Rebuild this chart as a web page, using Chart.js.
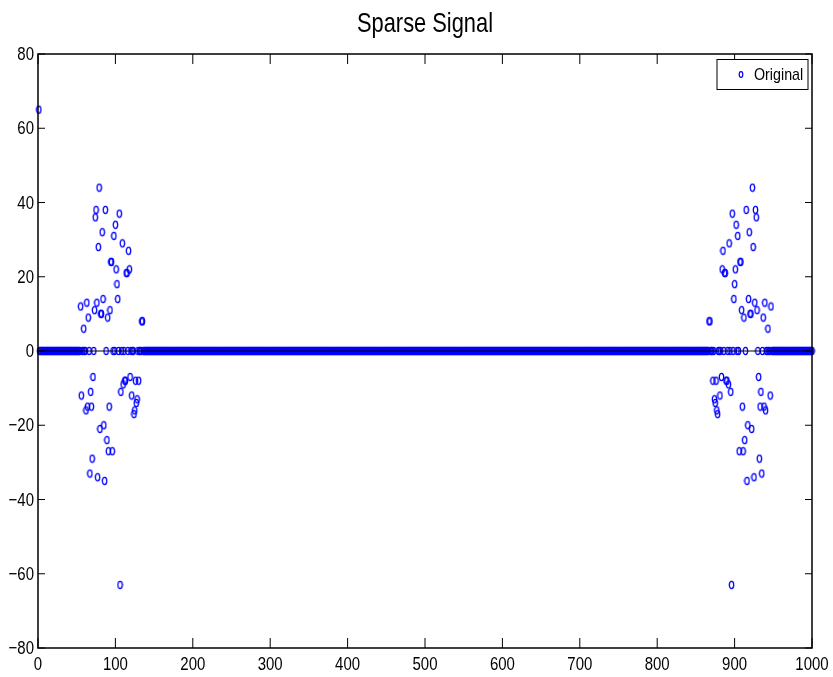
<!DOCTYPE html>
<html>
<head>
<meta charset="utf-8">
<title>Sparse Signal</title>
<script src="https://cdn.jsdelivr.net/npm/chart.js@4.4.1/dist/chart.umd.min.js"></script>
<style>
  html, body { margin: 0; padding: 0; background: #fff; }
  #wrap { width: 833px; height: 677px; }
</style>
</head>
<body>
<div id="wrap"><canvas id="sig" width="833" height="677"></canvas></div>
<script>
// signal length and the DC sample
const N = 1000;
const dcIndex = 1;
const dcValue = 65;

// non-zero samples of the low band
const lowIdx = [55,56,59,62,63,64,65,67,68,69,70,71,73,74,75,76,77,78,79,80,81,82,83,84,85,86,87,89,90,91,92,93,94,95,96,98,100,101,102,103,105,106,107,109,110,112,113,114,115,117,118,119,121,124,125,126,127,128,130,134,135];
const lowVals = [12,-12,6,-16,13,-15,9,-33,-11,-15,-29,-7,11,36,38,13,-34,28,44,-21,10,10,32,14,-20,-35,38,-24,9,-27,-15,11,24,24,-27,31,34,22,18,14,37,-63,-11,29,-9,-8,-8,21,21,27,22,-7,-12,-17,-16,-8,-14,-13,-8,8,8];

// non-zero samples of the high band
const highIdx = [867,868,872,874,875,876,877,878,881,883,884,885,887,888,889,890,892,893,895,896,897,899,900,901,902,904,906,907,908,909,910,911,912,913,915,916,917,918,919,920,921,922,923,924,925,926,927,928,929,931,932,933,934,935,937,938,939,940,943,946,947];
const highVals = [8,8,-8,-13,-14,-8,-16,-17,-12,-7,22,27,21,21,-8,-8,-9,29,-11,-63,37,14,18,22,34,31,-27,24,24,11,-15,-27,9,-24,38,-35,-20,14,32,10,10,-21,44,28,-34,13,38,36,11,-7,-29,-15,-11,-33,9,-15,13,-16,6,-12,12];

const xTicks = [0,100,200,300,400,500,600,700,800,900,1000];
const yTicks = [-80,-60,-40,-20,0,20,40,60,80];

const titleText = 'Sparse Signal';
const legendText = 'Original';

const FONT = "'Liberation Sans', Arial, Helvetica, sans-serif";
const BLUE = '#0000ff';

// full signal, zero everywhere except the listed samples
const sparse = new Map();
sparse.set(dcIndex, dcValue);
lowIdx.forEach((k, i) => sparse.set(k, lowVals[i]));
highIdx.forEach((k, i) => sparse.set(k, highVals[i]));
const points = [];
for (let k = 1; k <= N; k++) points.push({ x: k, y: sparse.has(k) ? sparse.get(k) : 0 });

// open oval marker
function makeMarker(rx, ry) {
  const c = document.createElement('canvas');
  c.width = 7; c.height = 10;
  const g = c.getContext('2d');
  g.strokeStyle = BLUE;
  g.lineWidth = 1.3;
  g.beginPath();
  g.ellipse(3.5, 5, rx, ry, 0, 0, Math.PI * 2);
  g.stroke();
  return c;
}
const marker = makeMarker(2.2, 3.6);

// condensed text: regular face squeezed horizontally
function narrowText(ctx, text, x, y, size, squeeze, align) {
  ctx.save();
  ctx.translate(x, y);
  ctx.scale(squeeze, 1);
  ctx.font = size + 'px ' + FONT;
  ctx.fillStyle = '#000';
  ctx.textAlign = align;
  ctx.textBaseline = 'middle';
  ctx.fillText(text, 0, 0);
  ctx.restore();
}

const fmt = v => String(v).replace('-', '\u2212');

// box, inward ticks, labels, zero line, title and legend
const frame = {
  id: 'frame',
  afterDatasetsDraw(chart) {
    const { ctx, chartArea: a, scales } = chart;
    const xs = scales.x, ys = scales.y;
    ctx.save();
    ctx.strokeStyle = '#000';

    ctx.lineWidth = 1;
    const y0 = ys.getPixelForValue(0);
    ctx.beginPath();
    ctx.moveTo(a.left, y0);
    ctx.lineTo(a.right, y0);
    ctx.stroke();

    ctx.lineWidth = 1.5;
    ctx.strokeRect(a.left, a.top, a.right - a.left, a.bottom - a.top);

    ctx.lineWidth = 1;
    ctx.beginPath();
    xTicks.forEach(v => {
      const px = xs.getPixelForValue(v);
      ctx.moveTo(px, a.bottom); ctx.lineTo(px, a.bottom - 10);
      ctx.moveTo(px, a.top); ctx.lineTo(px, a.top + 10);
    });
    yTicks.forEach(v => {
      const py = ys.getPixelForValue(v);
      ctx.moveTo(a.left, py); ctx.lineTo(a.left + 7, py);
      ctx.moveTo(a.right, py); ctx.lineTo(a.right - 7, py);
    });
    ctx.stroke();

    xTicks.forEach(v => narrowText(ctx, fmt(v), xs.getPixelForValue(v), a.bottom + 17, 18.5, 0.81, 'center'));
    yTicks.forEach(v => narrowText(ctx, fmt(v), a.left - 4, ys.getPixelForValue(v) + 1, 18.5, 0.81, 'right'));

    narrowText(ctx, titleText, (a.left + a.right) / 2, 24, 28, 0.78, 'center');

    // legend
    const bx = 717, by = 59.5, bw = 91, bh = 30;
    ctx.fillStyle = '#fff';
    ctx.fillRect(bx, by, bw, bh);
    ctx.lineWidth = 1;
    ctx.strokeRect(bx, by, bw, bh);
    ctx.strokeStyle = BLUE;
    ctx.lineWidth = 1.2;
    ctx.beginPath();
    ctx.ellipse(741, 74.5, 1.8, 2.8, 0, 0, Math.PI * 2);
    ctx.stroke();
    narrowText(ctx, legendText, 754, 75, 17, 0.84, 'left');
    ctx.restore();
  }
};

new Chart(document.getElementById('sig'), {
  type: 'scatter',
  data: {
    datasets: [{
      label: legendText,
      data: points,
      pointStyle: marker,
      pointRadius: 3,
      pointHoverRadius: 3,
      borderColor: BLUE,
      backgroundColor: 'transparent',
      clip: false
    }]
  },
  options: {
    responsive: false,
    animation: false,
    events: [],
    layout: { padding: { top: 54, right: 21, bottom: 0, left: 0 } },
    plugins: {
      legend: { display: false },
      tooltip: { enabled: false },
      title: { display: false }
    },
    scales: {
      x: {
        type: 'linear',
        min: 0,
        max: 1000,
        afterBuildTicks: s => { s.ticks = xTicks.map(v => ({ value: v })); },
        afterFit: s => { s.height = 29; },
        grid: { display: false, drawTicks: false },
        border: { display: false },
        ticks: { display: false }
      },
      y: {
        min: -80,
        max: 80,
        afterBuildTicks: s => { s.ticks = yTicks.map(v => ({ value: v })); },
        afterFit: s => { s.width = 38; },
        grid: { display: false, drawTicks: false },
        border: { display: false },
        ticks: { display: false }
      }
    }
  },
  plugins: [frame]
});
</script>
</body>
</html>
